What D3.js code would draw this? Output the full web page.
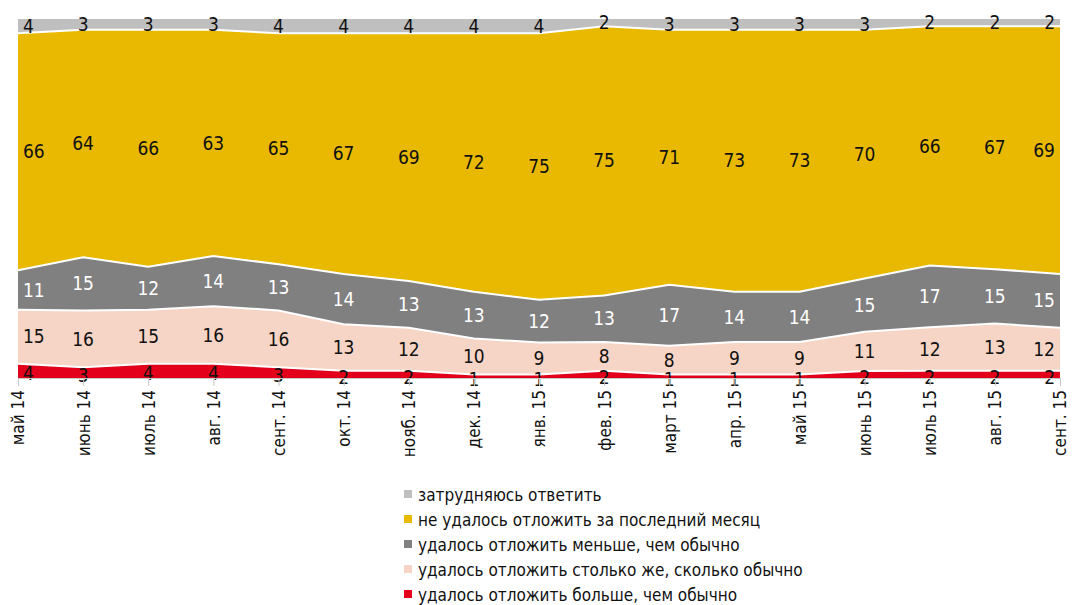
<!DOCTYPE html>
<html>
<head>
<meta charset="utf-8">
<script src="https://cdn.jsdelivr.net/npm/d3@7"></script>
<style>
  body { margin: 0; background: #fff; }
  text { font-family: "Liberation Sans Narrow", "DejaVu Sans Condensed", "Roboto", sans-serif; }
</style>
</head>
<body>
<div id="chart"></div>
<script>
// months
const months = ["май 14", "июнь 14", "июль 14", "авг. 14", "сент. 14", "окт. 14", "нояб. 14", "дек. 14",
  "янв. 15", "фев. 15", "март 15", "апр. 15", "май 15", "июнь 15", "июль 15", "авг. 15", "сент. 15"];

// series values, bottom to top
const more     = [4, 3, 4, 4, 3, 2, 2, 1, 1, 2, 1, 1, 1, 2, 2, 2, 2];
const same     = [15, 16, 15, 16, 16, 13, 12, 10, 9, 8, 8, 9, 9, 11, 12, 13, 12];
const less     = [11, 15, 12, 14, 13, 14, 13, 13, 12, 13, 17, 14, 14, 15, 17, 15, 15];
const notSaved = [66, 64, 66, 63, 65, 67, 69, 72, 75, 75, 71, 73, 73, 70, 66, 67, 69];
const dontKnow = [4, 3, 3, 3, 4, 4, 4, 4, 4, 2, 3, 3, 3, 3, 2, 2, 2];

const seriesNames = ["удалось отложить больше, чем обычно", "удалось отложить столько же, сколько обычно",
  "удалось отложить меньше, чем обычно", "не удалось отложить за последний месяц", "затрудняюсь ответить"];
const seriesValues = [more, same, less, notSaved, dontKnow];
const colors = ["#e2001a", "#f6d5c6", "#808080", "#e8b900", "#bfbfbf"];
const labelColors = ["#111", "#111", "#fff", "#111", "#111"];

chart();

function chart() {
    let margin = { top: 19, right: 12, bottom: 227, left: 18 },
        width = 1073 - margin.left - margin.right,
        height = 605 - margin.top - margin.bottom;

    let svg = d3.select("#chart").append("svg")
        .attr("width", 1073)
        .attr("height", 605)
        .append("g")
        .attr("transform", "translate(" + margin.left + "," + margin.top + ")");

    let rows = months.map((m, i) => {
        let r = { month: m };
        seriesValues.forEach((s, k) => r["s" + k] = s[i]);
        return r;
    });
    let keys = seriesValues.map((s, k) => "s" + k);

    let stack = d3.stack().keys(keys).offset(d3.stackOffsetExpand);
    let layers = stack(rows);

    let x = d3.scalePoint().domain(months).range([0, width - 1]);
    let y = d3.scaleLinear().domain([0, 1]).range([height, 0]);

    let area = d3.area()
        .x(d => x(d.data.month))
        .y0(d => y(d[0]))
        .y1(d => y(d[1]));

    svg.selectAll(".layer")
        .data(layers)
        .enter()
        .append("path")
        .attr("class", "layer")
        .attr("d", area)
        .attr("fill", (d, i) => colors[i]);

    // white separators between bands
    let line = d3.line().x(d => x(d.data.month)).y(d => y(d[1]));
    svg.selectAll(".sep")
        .data(layers.slice(0, 4))
        .enter()
        .append("path")
        .attr("class", "sep")
        .attr("d", line)
        .attr("fill", "none")
        .attr("stroke", "#fff")
        .attr("stroke-width", 2);

    // value labels; first and last column pulled inside the plot
    let last = months.length - 1;
    layers.forEach((layer, k) => {
        svg.selectAll(".lbl" + k)
            .data(layer)
            .enter()
            .append("text")
            .attr("x", (d, i) => x(d.data.month) + (i == 0 ? 5 : i == last ? -5 : 0))
            .attr("y", d => (y(d[0]) + y(d[1])) / 2 + (k == 0 ? 3 : 0))
            .attr("dy", "0.35em")
            .attr("text-anchor", (d, i) => i == 0 ? "start" : i == last ? "end" : "middle")
            .attr("fill", labelColors[k])
            .style("font-size", "19px")
            .text((d, i) => seriesValues[k][i]);
    });

    // x axis
    let axis = svg.append("g")
        .attr("transform", "translate(0," + height + ")")
        .call(d3.axisBottom(x).tickSize(8).tickSizeOuter(0));
    axis.select(".domain").attr("stroke", "#c8c8c8");
    axis.selectAll(".tick line").attr("stroke", "#c8c8c8");
    axis.selectAll("text")
        .attr("transform", "rotate(-90)")
        .attr("x", -12)
        .attr("y", 0)
        .attr("dy", "0.35em")
        .style("text-anchor", "end")
        .style("font-size", "17px")
        .attr("fill", "#111");

    // legend (top series first)
    let legend = svg.append("g")
        .attr("transform", "translate(" + (404 - margin.left) + "," + (495 - margin.top) + ")");
    let order = [4, 3, 2, 1, 0];
    order.forEach((k, i) => {
        let g = legend.append("g").attr("transform", "translate(0," + (i * 25) + ")");
        g.append("rect")
            .attr("x", 0).attr("y", -5)
            .attr("width", 8).attr("height", 8)
            .attr("fill", colors[k]);
        g.append("text")
            .attr("x", 14)
            .attr("y", 0)
            .attr("dy", "0.35em")
            .style("font-size", "17px")
            .attr("fill", "#111")
            .text(seriesNames[k]);
    });
}
</script>
</body>
</html>
